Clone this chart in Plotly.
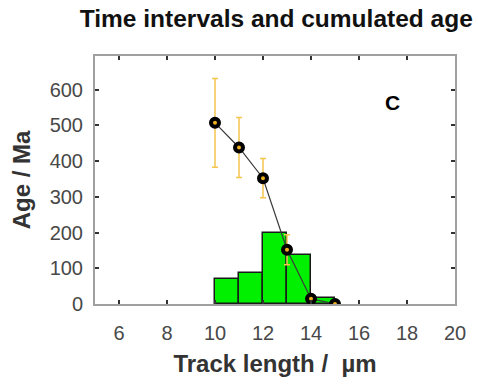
import plotly.graph_objects as go

# Histogram of track lengths (bins of 1 µm)
bin_left = [10, 11, 12, 13, 14]
bin_counts = [70, 88, 200, 138, 18]

# Cumulated age points
pt_length = [10, 11, 12, 13, 14, 15]
pt_age = [507, 438, 352, 152, 15, 0]
pt_err = [124, 84, 55, 42, 8, 0]

xticks = [6, 8, 10, 12, 14, 16, 18, 20]
yticks = [0, 100, 200, 300, 400, 500, 600]

FONT = "Liberation Sans, Arial, sans-serif"

fig = go.Figure()
fig.add_trace(go.Bar(
    x=[b + 0.5 for b in bin_left], y=bin_counts, width=1,
    marker=dict(color="#00f000", line=dict(color="#1a1a1a", width=1.5)),
    showlegend=False,
))
fig.add_trace(go.Scatter(
    x=pt_length, y=pt_age, mode="lines+markers",
    line=dict(color="#3a3a3a", width=1.2),
    marker=dict(size=8, color="#f0b020", line=dict(color="black", width=4)),
    error_y=dict(type="data", array=pt_err, visible=True, color="#f5c550",
                 thickness=1.5, width=3),
    showlegend=False,
))

fig.add_annotation(x=17.4, y=565, text="<b>C</b>", showarrow=False,
                   font=dict(family=FONT, size=21, color="black"))

axis_common = dict(
    showline=True, linecolor="#a0a0a0", linewidth=2, mirror="ticks",
    ticks="inside", ticklen=4, tickwidth=1.5, tickcolor="#333333",
    showgrid=False, zeroline=False,
    tickfont=dict(family=FONT, size=20, color="#484848"),
)

fig.update_layout(
    width=478, height=385,
    margin=dict(l=95, r=18.5, t=55.7, b=80.7),
    paper_bgcolor="white", plot_bgcolor="white",
    title=dict(text="<b>Time intervals and cumulated age</b>",
               font=dict(family=FONT, size=24.5, color="#111111"),
               x=0.578, xanchor="center", xref="container",
               y=0.951, yanchor="middle", yref="container"),
    xaxis=dict(range=[5, 20], tickvals=xticks, ticklabelstandoff=10, **axis_common,
               title=dict(text="<b>Track length /  µm</b>", standoff=12,
                          font=dict(family=FONT, size=24, color="#333333"))),
    yaxis=dict(range=[0, 694], tickvals=yticks, ticklabelstandoff=6, **axis_common,
               title=dict(text="<b>Age / Ma</b>", standoff=12,
                          font=dict(family=FONT, size=24, color="#333333"))),
    bargap=0,
)

fig.write_html("out.html")
